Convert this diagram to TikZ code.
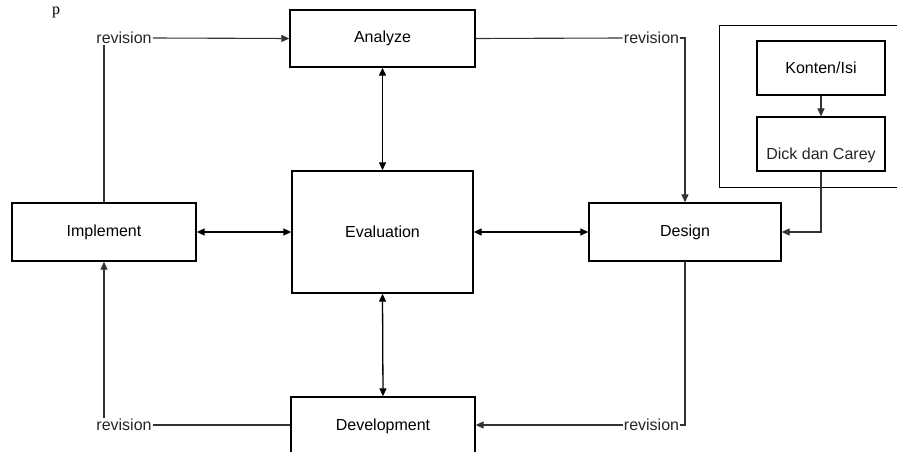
\documentclass[tikz,border=0pt]{standalone}
\usepackage{fontspec}
\setmainfont{Liberation Sans}
\usetikzlibrary{arrows.meta}
\tikzset{
  box/.style={draw=black, line width=1.4pt, fill=white, inner sep=0pt, font=\fontsize{16}{18}\selectfont},
  txt/.style={inner sep=1pt, font=\fontsize{16}{18}\selectfont, text=black!85},
  conn/.style={line width=1.1pt, draw=black!80},
  arr/.style={conn, -{Triangle[length=8pt,width=7pt]}},
  dbl/.style={conn, line width=1.3pt, draw=black, {Triangle[length=8pt,width=7pt]}-{Triangle[length=8pt,width=7pt]}}
}
\begin{document}
\begin{tikzpicture}[x=1pt,y=-1pt]
\useasboundingbox (0,0) rectangle (897,452);
\clip (0,0) rectangle (897,452);
\fill[white] (0,0) rectangle (897,452);
% text fragment at the top
\node[inner sep=0pt, anchor=base, font=\fontsize{16}{18}\selectfont\fontspec{Liberation Serif}] (fragp) at (56,14.5) {p};
% outer group box
\node[draw=black, line width=1.3pt, anchor=north west, minimum width=200pt, minimum height=162pt, inner sep=0pt] (grp) at (719,25) {};
% boxes
\node[box, minimum width=185pt, minimum height=57pt] (ana) at (382.5,38.5) {Analyze};
\node[box, minimum width=181pt, minimum height=122pt] (eva) at (382.5,232) {Evaluation};
\node[box, minimum width=184pt, minimum height=58pt] (imp) at (104,232) {Implement};
\node[box, minimum width=192pt, minimum height=58pt] (des) at (685,232) {Design};
\node[box, minimum width=184pt, minimum height=58pt] (dev) at (383,426) {Development};
\node[box, line width=1.2pt, minimum width=128pt, minimum height=54pt] (kon) at (821,68) {Konten/Isi};
\node[box, line width=1.2pt, minimum width=128pt, minimum height=54pt] (dick) at (821,144) {};
\node[txt] (dicktxt) at (821,155) {Dick dan Carey};
% revision labels
\node[txt] (rev1) at (124,38) {revision};
\node[txt] (rev2) at (651.5,38) {revision};
\node[txt] (rev3) at (651.5,425) {revision};
\node[txt] (rev4) at (124,425) {revision};
% revision connectors
\draw[conn] (imp.north) -- (rev1.south -| imp.north);
\draw[arr] (rev1.east) -- (ana.west);
\draw[conn] (ana.east) -- (rev2.west);
\draw[arr] (rev2.east) -| (des.north);
\draw[conn] (des.south) |- (rev3.east);
\draw[arr] (rev3.west) -- (rev3.west -| dev.east);
\draw[conn] (rev4.east -| dev.west) -- (rev4.east);
\draw[arr] (rev4.north -| imp.south) -- (imp.south);
% evaluation links
\draw[dbl] (ana.south) -- (eva.north);
\draw[dbl] (eva.south) -- (dev.north);
\draw[dbl] (imp.east) -- (eva.west);
\draw[dbl] (eva.east) -- (des.west);
% group links
\draw[arr] (kon.south) -- (dick.north);
\draw[arr] (dick.south) |- (des.east);
\end{tikzpicture}
\end{document}
